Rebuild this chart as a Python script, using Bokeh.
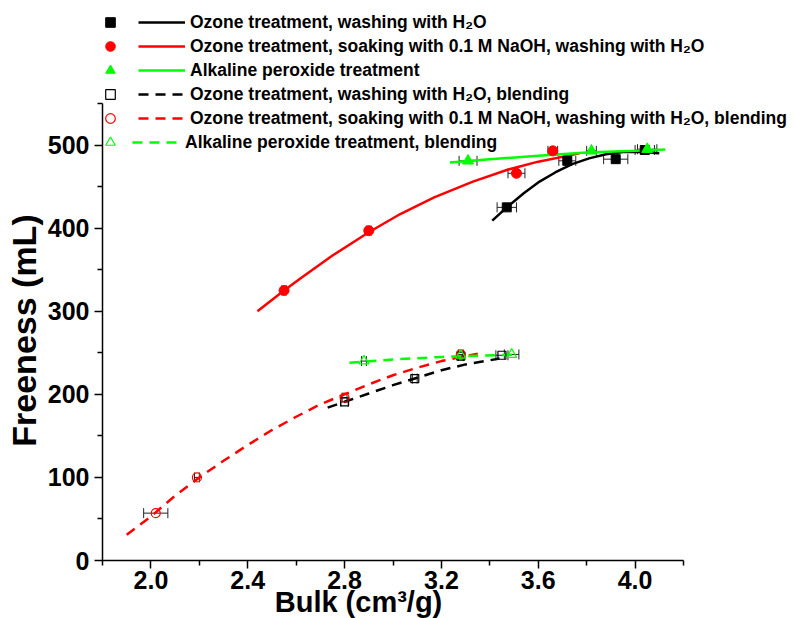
import math
from bokeh.plotting import figure
from bokeh.models import (Range1d, FixedTicker, NumeralTickFormatter, Whisker, TeeHead,
                          ColumnDataSource, Legend, LegendItem, Label)
from bokeh.core.properties import value
from bokeh.embed import file_html
from bokeh.resources import INLINE

FONT = "Liberation Sans"

# ---------------- data ----------------
x_ticks = [2.0, 2.4, 2.8, 3.2, 3.6, 4.0]
x_minor = [1.8, 2.2, 2.6, 3.0, 3.4, 3.8, 4.2]
y_ticks = [0, 100, 200, 300, 400, 500]
y_minor = [50, 150, 250, 350, 450, 550]
x_bounds = (1.8, 4.2)
y_bounds = (0, 550)

labels = [
    "Ozone treatment, washing with H\u2082O",
    "Ozone treatment, soaking with 0.1 M NaOH, washing with H\u2082O",
    "Alkaline peroxide treatment",
    "Ozone treatment, washing with H\u2082O, blending",
    "Ozone treatment, soaking with 0.1 M NaOH, washing with H\u2082O, blending",
    "Alkaline peroxide treatment, blending",
]

# measured points: bulk (cm3/g), freeness (mL), bulk error
oz_h2o_x = [3.47, 3.72, 3.92, 4.04]
oz_h2o_y = [425, 481, 483, 494]
oz_h2o_xerr = [0.04, 0.035, 0.05, 0.04]

oz_naoh_x = [2.55, 2.90, 3.51, 3.66]
oz_naoh_y = [325, 397, 466, 493]
oz_naoh_xerr = [0.01, 0.01, 0.035, 0.02]

ap_x = [3.31, 3.82, 4.05]
ap_y = [481, 493, 495]
ap_xerr = [0.037, 0.02, 0.04]

oz_h2o_b_x = [2.80, 3.09, 3.28, 3.45]
oz_h2o_b_y = [191, 219, 246, 247]
oz_h2o_b_xerr = [0.015, 0.01, 0.01, 0.025]

oz_naoh_b_x = [2.02, 2.19, 2.80, 3.28]
oz_naoh_b_y = [57, 100, 196, 248]
oz_naoh_b_xerr = [0.05, 0.01, 0.01, 0.01]

ap_b_x = [2.88, 3.28, 3.49]
ap_b_y = [240, 247, 248]
ap_b_xerr = [0.01, 0.01, 0.03]

# fitted curves
fit_oz_h2o_x = [3.41, 3.47, 3.54, 3.60, 3.67, 3.74, 3.81, 3.88, 3.95, 4.02, 4.10]
fit_oz_h2o_y = [409, 425, 442, 455, 467, 477, 484, 489, 491.5, 492, 490]
fit_oz_naoh_x = [2.44, 2.55, 2.62, 2.75, 2.90, 3.03, 3.17, 3.33, 3.47, 3.60, 3.77]
fit_oz_naoh_y = [300, 325, 340, 367, 395, 417, 437, 456, 470, 480, 490]
fit_ap_x = [3.235, 3.40, 3.60, 3.80, 4.00, 4.125]
fit_ap_y = [479, 483, 487, 491, 493, 494.5]
fit_oz_h2o_b_x = [2.73, 2.80, 2.90, 3.00, 3.10, 3.20, 3.30, 3.44]
fit_oz_h2o_b_y = [184, 191, 201, 211, 220, 229, 236, 243]
fit_oz_naoh_b_x = [1.90, 2.00, 2.10, 2.20, 2.30, 2.40, 2.50, 2.60, 2.70, 2.80, 2.90, 3.00, 3.10, 3.20, 3.35]
fit_oz_naoh_b_y = [31, 53, 78, 100, 120, 139, 157, 173, 188, 200, 212, 223, 232, 240, 249]
fit_ap_b_x = [2.82, 3.00, 3.20, 3.52]
fit_ap_b_y = [238, 242, 245, 248]

# ---------------- layout (pixels of the 795x618 canvas) ----------------
W, H = 795, 618
AX_L, AX_R, AX_T, AX_B = 102, 683, 103, 560   # where the axes sit
sx = (AX_R - AX_L) / (x_bounds[1] - x_bounds[0])
sy = (AX_B - AX_T) / (y_bounds[1] - y_bounds[0])
x_range = Range1d(x_bounds[0] - AX_L / sx, x_bounds[0] + (W - AX_L) / sx)
y_range = Range1d(y_bounds[0] - (H - AX_B) / sy, y_bounds[0] + AX_B / sy)

p = figure(width=W, height=H, output_backend="svg", toolbar_location=None,
           x_range=x_range, y_range=y_range, min_border=0)
p.outline_line_color = None
p.xgrid.visible = False
p.ygrid.visible = False
p.background_fill_color = "white"
p.border_fill_color = "white"

p.xaxis.fixed_location = y_bounds[0]
p.yaxis.fixed_location = x_bounds[0]
p.xaxis.bounds = x_bounds
p.yaxis.bounds = y_bounds

for ax in (p.xaxis[0], p.yaxis[0]):
    ax.axis_line_width = 1.5
    ax.axis_line_color = "black"
    ax.major_tick_line_width = 1.5
    ax.minor_tick_line_width = 1.5
    ax.major_tick_line_color = "black"
    ax.minor_tick_line_color = "black"
    ax.major_tick_out = 8
    ax.major_tick_in = 0
    ax.minor_tick_out = 5
    ax.minor_tick_in = 0
    ax.major_label_text_font = FONT
    ax.major_label_text_font_size = "25px"
    ax.major_label_text_font_style = "bold"
    ax.major_label_text_color = "black"
p.xaxis.major_label_standoff = 2
p.yaxis.major_label_standoff = 5

p.xaxis.ticker = FixedTicker(ticks=x_ticks, minor_ticks=x_minor)
p.xaxis.formatter = NumeralTickFormatter(format="0.0")
p.yaxis.ticker = FixedTicker(ticks=y_ticks, minor_ticks=y_minor)

DASH = "10 7"
ERR = "#222222"

series = [
    (oz_h2o_x, oz_h2o_y, oz_h2o_xerr, fit_oz_h2o_x, fit_oz_h2o_y, "black", "square", True, "solid"),
    (oz_naoh_x, oz_naoh_y, oz_naoh_xerr, fit_oz_naoh_x, fit_oz_naoh_y, "#FF0000", "circle", True, "solid"),
    (ap_x, ap_y, ap_xerr, fit_ap_x, fit_ap_y, "#00FF00", "triangle", True, "solid"),
    (oz_h2o_b_x, oz_h2o_b_y, oz_h2o_b_xerr, fit_oz_h2o_b_x, fit_oz_h2o_b_y, "black", "square", False, DASH),
    (oz_naoh_b_x, oz_naoh_b_y, oz_naoh_b_xerr, fit_oz_naoh_b_x, fit_oz_naoh_b_y, "#FF0000", "circle", False, DASH),
    (ap_b_x, ap_b_y, ap_b_xerr, fit_ap_b_x, fit_ap_b_y, "#00FF00", "triangle", False, DASH),
]

line_rs, mark_rs = [], []
for (xs, ys, xe, fx, fy, col, mk, filled, dash) in series:
    lr = p.line(fx, fy, line_color=col, line_width=2.5, line_dash=dash)
    line_rs.append(lr)
for (xs, ys, xe, fx, fy, col, mk, filled, dash) in series:
    size = {"square": 9, "circle": 10, "triangle": 11}[mk]
    if filled:
        mr = p.scatter(xs, ys, marker=mk, size=size, fill_color=col, line_color=col, line_width=1)
    else:
        mr = p.scatter(xs, ys, marker=mk, size=size - 1, fill_color=None, line_color=col, line_width=1.2)
    mark_rs.append(mr)
    src = ColumnDataSource(dict(y=ys, lo=[x - e for x, e in zip(xs, xe)], hi=[x + e for x, e in zip(xs, xe)]))
    w = Whisker(base="y", lower="lo", upper="hi", dimension="width", source=src,
                line_color=ERR, line_width=1,
                upper_head=TeeHead(size=10, line_color=ERR, line_width=1),
                lower_head=TeeHead(size=10, line_color=ERR, line_width=1))
    p.add_layout(w)

common = dict(glyph_height=24, label_height=24, spacing=0, padding=0, margin=0,
              border_line_color=None, background_fill_alpha=0,
              label_text_font=FONT, label_text_font_size="17.5px", label_text_font_style="bold",
              label_text_color="black")

ROW = 24
LEG_BOTTOM = H - 154   # legend bottom edge, measured up from the canvas bottom
leg_lines = Legend(items=[LegendItem(label=value(l), renderers=[r]) for l, r in zip(labels[:5], line_rs[:5])],
                   location=(138, LEG_BOTTOM + ROW), glyph_width=47, label_standoff=5, **common)
leg_last = Legend(items=[LegendItem(label=value(labels[5]), renderers=[line_rs[5]])],
                  location=(132, LEG_BOTTOM), glyph_width=48, label_standoff=5, **common)
leg_marks = Legend(items=[LegendItem(label=value(""), renderers=[r]) for r in mark_rs],
                   location=(98, LEG_BOTTOM), glyph_width=24, label_standoff=0, label_width=0, **common)
p.add_layout(leg_lines)
p.add_layout(leg_last)
p.add_layout(leg_marks)

p.add_layout(Label(x=23, y=H - 330, x_units="screen", y_units="screen", text="Freeness (mL)",
                   angle=math.pi / 2, text_align="center", text_baseline="middle",
                   text_font=FONT, text_font_size="34px", text_font_style="bold", text_color="black"))
p.add_layout(Label(x=358, y=H - 601, x_units="screen", y_units="screen", text="Bulk (cm\u00b3/g)",
                   text_align="center", text_baseline="middle",
                   text_font=FONT, text_font_size="29px", text_font_style="bold", text_color="black"))

open("out.html", "w").write(file_html(p, INLINE))
